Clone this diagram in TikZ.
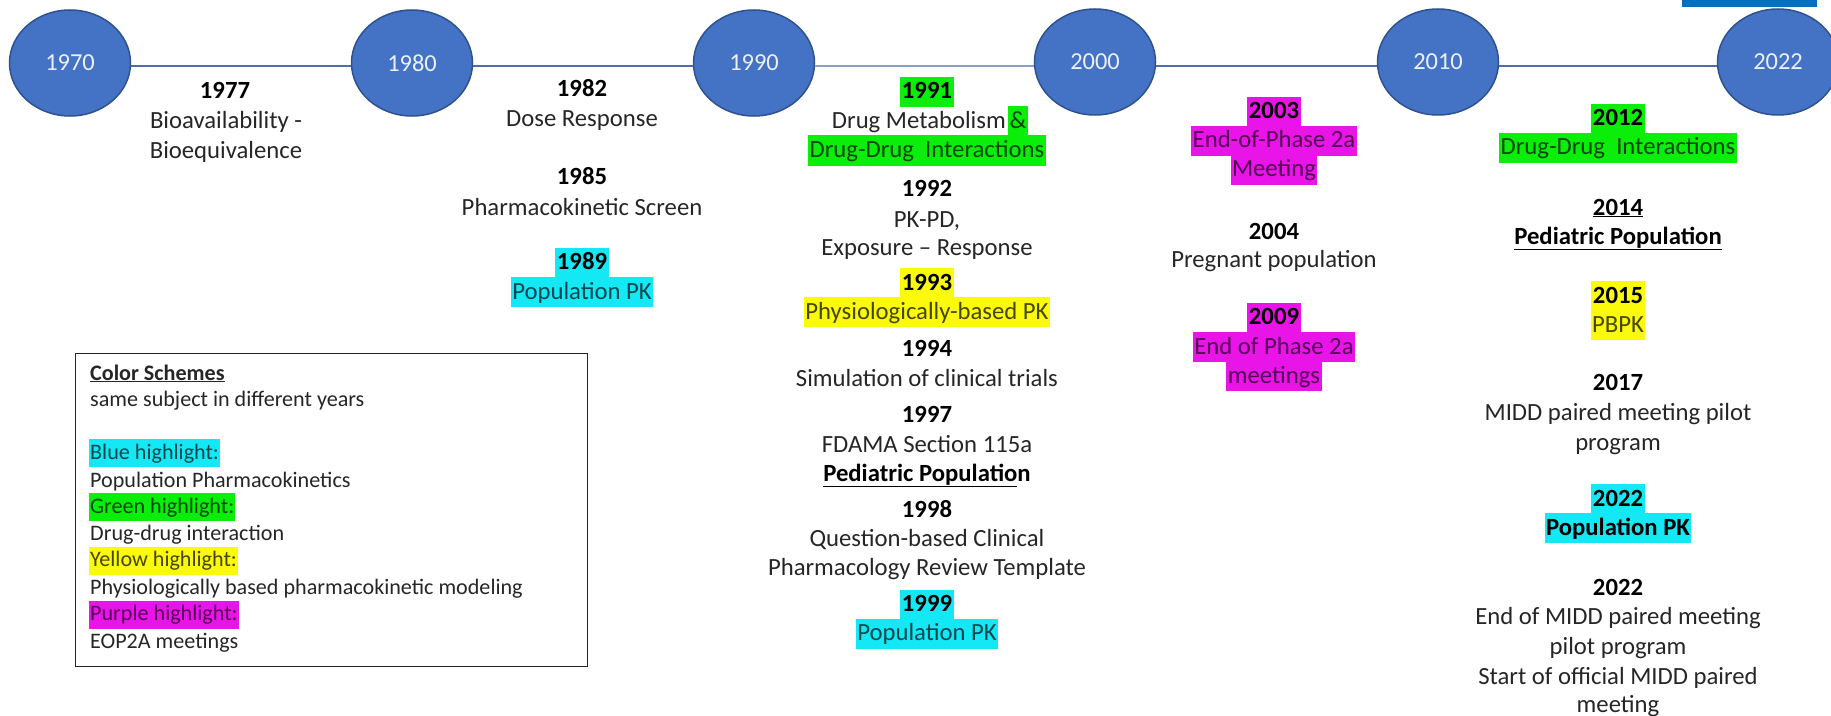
\documentclass[tikz,border=0pt]{standalone}
\usepackage{fontspec}
\setmainfont{Carlito}
\usetikzlibrary{shapes.geometric}
\definecolor{circfill}{RGB}{68,114,196}
\definecolor{circdraw}{RGB}{47,82,143}
\definecolor{lineblue}{RGB}{80,110,165}
\definecolor{tgray}{RGB}{38,38,38}
\definecolor{hcyan}{RGB}{20,232,245}
\definecolor{hgreen}{RGB}{10,238,10}
\definecolor{hyellow}{RGB}{250,250,10}
\definecolor{hmag}{RGB}{232,20,232}
\definecolor{tcyan}{RGB}{0,70,80}
\definecolor{tgreen}{RGB}{0,70,0}
\definecolor{tyellow}{RGB}{70,70,0}
\definecolor{tmag}{RGB}{85,0,85}
\definecolor{barblue}{RGB}{0,112,192}
\definecolor{circtext}{RGB}{235,240,250}
\begin{document}
\begin{tikzpicture}[x=1bp,y=-1bp,
  yearcirc/.style={ellipse, fill=circfill, draw=circdraw, line width=1.5bp, minimum width=121bp, minimum height=106bp, inner sep=0pt, text=circtext, font=\fontsize{24.5}{29}\selectfont},
  tline/.style={line width=1.4bp, draw=lineblue},
  evline/.style={anchor=base, inner xsep=1.5bp, inner ysep=1bp, text height=21bp, text depth=7bp, font=\fontsize{24.8}{29}\selectfont, text=tgray},
  yrbold/.style={evline, font=\fontsize{24.8}{29}\selectfont\bfseries, text=black},
  fc/.style={fill=hcyan}, fg/.style={fill=hgreen}, fy/.style={fill=hyellow}, fm/.style={fill=hmag},
  tc/.style={text=tcyan}, tg/.style={text=tgreen}, ty/.style={text=tyellow}, tm/.style={text=tmag},
  lg/.style={anchor=base west, inner xsep=1bp, inner ysep=1bp, text height=19bp, text depth=7bp, font=\fontsize{22.2}{26}\selectfont, text=tgray},
]
\useasboundingbox (0,0) rectangle (1831,716);
\fill[white] (0,0) rectangle (1831,716);
\fill[barblue] (1682,0) rectangle (1817,7);

% timeline circles
\node[yearcirc] (c1970) at (70,63) {1970};
\node[yearcirc] (c1980) at (412,63) {1980};
\node[yearcirc] (c1990) at (754,63) {1990};
\node[yearcirc] (c2000) at (1095,62) {2000};
\node[yearcirc] (c2010) at (1438,62) {2010};
\node[yearcirc] (c2022) at (1778,62) {2022};
\draw[tline] ([yshift=-3bp]c1970.east) -- ([yshift=-3bp]c1980.west);
\draw[tline] ([yshift=-3bp]c1980.east) -- ([yshift=-3bp]c1990.west);
\draw[tline] ([yshift=-3bp]c1990.east) -- ([yshift=-4bp]c2000.west);
\draw[tline] ([yshift=-4bp]c2000.east) -- ([yshift=-4bp]c2010.west);
\draw[tline] ([yshift=-4bp]c2010.east) -- ([yshift=-4bp]c2022.west);

% 1970s
\node[yrbold] (y1977) at (225,99) {1977};
\node[evline] (d1977a) at (226,129) {Bioavailability -};
\node[evline] (d1977b) at (226,159) {Bioequivalence};

% 1980s
\node[yrbold] (y1982) at (582,97) {1982};
\node[evline] (d1982) at (582,127) {Dose Response};
\node[yrbold] (y1985) at (582,184) {1985};
\node[evline] (d1985) at (582,215) {Pharmacokinetic Screen};
\node[yrbold, fc] (y1989) at (582,269.5) {1989};
\node[evline, fc, tc] (d1989) at (582,299) {Population PK};

% 1990s
\node[yrbold, fg] (y1991) at (927,99) {1991};
\node[evline, anchor=base east, inner xsep=0pt] (d1991a) at (1006,128.5) {Drug Metabolism};
\node[evline, anchor=base west, fg, tg] (d1991b) at (1008,128.5) {\&};
\node[evline, fg, tg] (d1991c) at (927,157.5) {Drug-Drug\ \ Interactions};
\node[yrbold] (y1992) at (927,196) {1992};
\node[evline] (d1992a) at (927,227) {PK-PD,};
\node[evline] (d1992b) at (927,255.5) {Exposure – Response};
\node[yrbold, fy] (y1993) at (927,290) {1993};
\node[evline, fy, ty] (d1993) at (927,319) {Physiologically-based PK};
\node[yrbold] (y1994) at (927,356) {1994};
\node[evline] (d1994) at (927,386) {Simulation of clinical trials};
\node[yrbold] (y1997) at (927,422) {1997};
\node[evline] (d1997a) at (927,452) {FDAMA Section 115a};
\node[yrbold] (d1997b) at (927,481) {\underline{Pediatric Populatio}n};
\node[yrbold] (y1998) at (927,517) {1998};
\node[evline] (d1998a) at (927,546) {Question-based Clinical};
\node[evline] (d1998b) at (927,575) {Pharmacology Review Template};
\node[yrbold, fc] (y1999) at (927,611.5) {1999};
\node[evline, fc, tc] (d1999) at (927,640.5) {Population PK};

% 2000s
\node[yrbold, fm] (y2003) at (1274,119) {2003};
\node[evline, fm, tm] (d2003a) at (1274,148) {End-of-Phase 2a};
\node[evline, fm, tm] (d2003b) at (1274,177) {Meeting};
\node[yrbold] (y2004) at (1274,239) {2004};
\node[evline] (d2004) at (1274,267) {Pregnant population};
\node[yrbold, fm] (y2009) at (1274,324.5) {2009};
\node[evline, fm, tm] (d2009a) at (1274,354) {End of Phase 2a};
\node[evline, fm, tm] (d2009b) at (1274,383) {meetings};

% 2010s
\node[yrbold, fg] (y2012) at (1618,126) {2012};
\node[evline, fg, tg] (d2012) at (1618,155) {Drug-Drug\ \ Interactions};
\node[yrbold] (y2014) at (1618,215) {\underline{2014}};
\node[yrbold] (d2014) at (1618,244) {\underline{Pediatric Population}};
\node[yrbold, fy] (y2015) at (1618,303) {2015};
\node[evline, fy, ty] (d2015) at (1618,332) {PBPK};
\node[yrbold] (y2017) at (1618,390) {2017};
\node[evline] (d2017a) at (1618,420) {MIDD paired meeting pilot};
\node[evline] (d2017b) at (1618,450) {program};
\node[yrbold, fc] (y2022a) at (1618,506) {2022};
\node[yrbold, fc] (d2022a) at (1618,535) {Population PK};
\node[yrbold] (y2022b) at (1618,595) {2022};
\node[evline] (d2022b) at (1618,624) {End of MIDD paired meeting};
\node[evline] (d2022c) at (1618,654) {pilot program};
\node[evline] (d2022d) at (1618,684) {Start of official MIDD paired};
\node[evline] (d2022e) at (1618,712) {meeting};

% legend
\node[draw=black!85, line width=1.2bp, minimum width=512bp, minimum height=313bp, anchor=north west, inner sep=0pt] (legend) at (75,353) {};
\node[lg, font=\fontsize{22.2}{26}\selectfont\bfseries] (lt1) at (89,380) {\underline{Color Schemes}};
\node[lg] (lt2) at (89,406) {same subject in different years};
\node[lg, fc, tc] (lt3) at (89,459) {Blue highlight:};
\node[lg] (lt4) at (89,487) {Population Pharmacokinetics};
\node[lg, fg, tg] (lt5) at (89,513) {Green highlight:};
\node[lg] (lt6) at (89,540) {Drug-drug interaction};
\node[lg, fy, ty] (lt7) at (89,566.5) {Yellow highlight:};
\node[lg] (lt8) at (89,594) {Physiologically based pharmacokinetic modeling};
\node[lg, fm, tm] (lt9) at (89,620.5) {Purple highlight:};
\node[lg] (lt10) at (89,648) {EOP2A meetings};
\end{tikzpicture}
\end{document}
